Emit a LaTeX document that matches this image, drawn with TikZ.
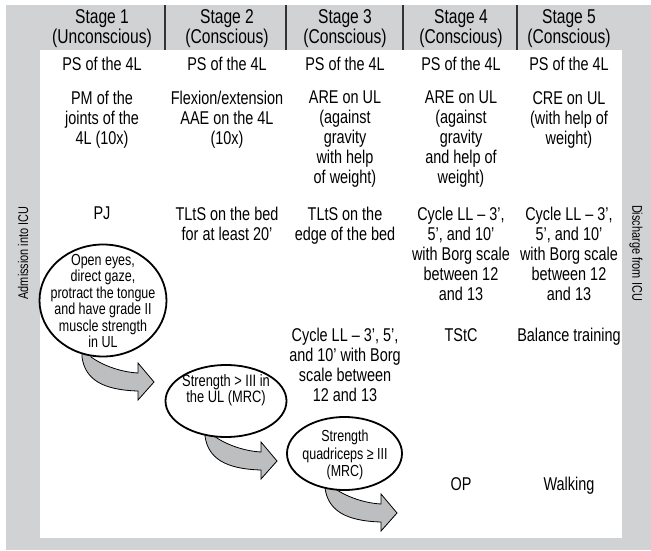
\documentclass[tikz,border=0pt]{standalone}
\usepackage{fontspec}
\setmainfont{Liberation Sans}[FakeStretch=0.78]
\usetikzlibrary{shapes.geometric}
\definecolor{bggray}{RGB}{209,210,212}
\definecolor{arrgray}{RGB}{188,190,192}
\tikzset{
  cell/.style={align=center, anchor=north, inner sep=0pt, font=\fontsize{18.5}{20}\selectfont},
  head/.style={align=center, inner sep=0pt, font=\fontsize{20}{20}\selectfont},
  side/.style={inner sep=0pt, font=\fontsize{14}{16}\selectfont},
  oval/.style={draw, ellipse, line width=1.8pt, fill=white, inner sep=0pt},
  ovaltext/.style={align=center, inner sep=0pt},
  bent/.style={draw=black, line width=0.8pt, fill=arrgray, line join=miter},
  divider/.style={line width=1.4pt, draw=black!80},
  bentarrow/.pic={\filldraw[bent] (0,-12) -- (0,0) .. controls (3,22) and (20,33) .. (56,34)
      -- (56,43) -- (72,25) -- (56,6) -- (56,16) .. controls (38,15) and (20,8) .. (9,0) -- (9,-12) -- cycle;}
}
\begin{document}
\begin{tikzpicture}[x=1pt,y=-1pt]
\useasboundingbox (0,0) rectangle (651,551);
\fill[white] (0,0) rectangle (651,551);
\fill[bggray] (6,5) rectangle (651,550);
\fill[white] (40,50) rectangle (622,538);
% header dividers
\foreach \xx in {165,286,403,517} \draw[divider] (\xx,5) -- (\xx,50);
% headers
\node[head] (h1) at (102,29) {Stage 1\\(Unconscious)};
\node[head] (h2) at (227,29) {Stage 2\\(Conscious)};
\node[head] (h3) at (345,29) {Stage 3\\(Conscious)};
\node[head] (h4) at (461,29) {Stage 4\\(Conscious)};
\node[head] (h5) at (569,29) {Stage 5\\(Conscious)};
% side labels
\node[side, rotate=90] (adm) at (23,253) {Admission into ICU};
\node[side, rotate=-90] (dis) at (636,253) {Discharge from ICU};
% row 1
\node[cell] (a1) at (102,57) {PS of the 4L};
\node[cell] (b1) at (227,57) {PS of the 4L};
\node[cell] (c1t) at (345,57) {PS of the 4L};
\node[cell] (d1) at (461,57) {PS of the 4L};
\node[cell] (e1) at (569,57) {PS of the 4L};
% row 2
\node[cell] (a2) at (102,91) {PM of the\\joints of the\\4L (10x)};
\node[cell] (b2) at (227,91) {Flexion/extension\\AAE on the 4L\\(10x)};
\node[cell] (c2t) at (345,91) {ARE on UL\\(against\\gravity\\with help\\of weight)};
\node[cell] (d2) at (461,91) {ARE on UL\\(against\\gravity\\and help of\\weight)};
\node[cell] (e2) at (569,91) {CRE on UL\\(with help of\\weight)};
% row 3
\node[cell] (a3) at (102,207) {PJ};
\node[cell] (b3) at (227,207) {TLtS on the bed\\for at least 20’};
\node[cell] (c3t) at (345,207) {TLtS on the\\edge of the bed};
\node[cell] (d3) at (461,207) {Cycle LL – 3’,\\5’, and 10’\\with Borg scale\\between 12\\and 13};
\node[cell] (e3) at (569,207) {Cycle LL – 3’,\\5’, and 10’\\with Borg scale\\between 12\\and 13};
% row 4
\node[cell] (c4) at (345,328) {Cycle LL – 3’, 5’,\\and 10’ with Borg\\scale between\\12 and 13};
\node[cell] (d4) at (461,328) {TStC};
\node[cell] (e4) at (569,328) {Balance training};
% row 5
\node[cell] (d5) at (461,477) {OP};
\node[cell] (e5) at (569,477) {Walking};
% bent arrows
\pic at (82,357) {bentarrow};
\pic at (205,436) {bentarrow};
\pic at (325,488) {bentarrow};
% ovals
\node[oval, minimum width=127, minimum height=112] (o1) at (103,300.5) {};
\node[oval, minimum width=121, minimum height=72] (o2) at (226,401) {};
\node[oval, minimum width=115, minimum height=73] (o3) at (344.5,453.5) {};
\node[ovaltext, font=\fontsize{16}{16.4}\selectfont] (t1) at (103,301) {Open eyes,\\direct gaze,\\protract the tongue\\and have grade II\\muscle strength\\in UL};
\node[ovaltext, font=\fontsize{16.5}{16.5}\selectfont] (t2) at (226,390) {Strength > III in\\the UL (MRC)};
\node[ovaltext, font=\fontsize{16}{17.5}\selectfont] (t3) at (345,455) {Strength\\quadriceps ≥ III\\(MRC)};
\end{tikzpicture}
\end{document}
